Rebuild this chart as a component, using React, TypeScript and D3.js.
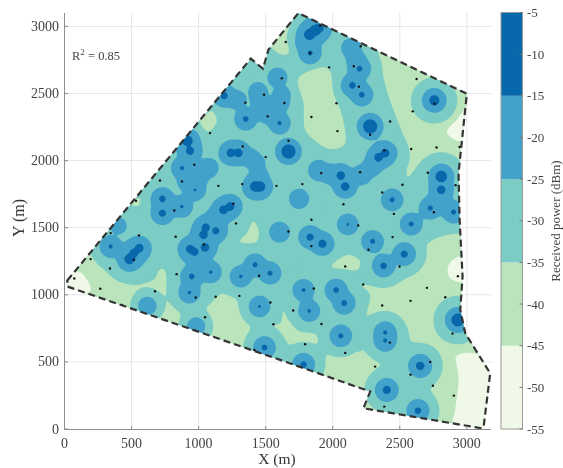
import React, { useMemo } from 'react';
import * as d3 from 'd3';

const W = 563;
const H = 468;
const SERIF = '"Liberation Serif", serif';

const xTicks = [0, 500, 1000, 1500, 2000, 2500, 3000];
const yTicks = [0, 500, 1000, 1500, 2000, 2500, 3000];
const barTicks = [-5, -10, -15, -20, -25, -30, -35, -40, -45, -50, -55];
// lower edge, upper edge, colour
const bands: [number, number, string][] = [
  [-55, -45, '#f0f9e8'],
  [-45, -35, '#bae4bc'],
  [-35, -25, '#7bccc4'],
  [-25, -15, '#43a2ca'],
  [-15, -5, '#0868ac'],
];

// survey area outline, metres
const boundary: [number, number][] = [
  [21, 1107], [1389, 2760], [1479, 2685], [1521, 2827], [1744, 3100], [3000, 2499],
  [2938, 1907], [2946, 1558], [2968, 1137], [2951, 888], [2988, 714], [3174, 415],
  [3125, 17], [3112, 5], [2229, 154], [2279, 279], [1608, 515], [21, 1062],
];

// strongest reading around each hot spot: x, y, dBm
const hotSpots: [number, number, number][] = [
  [1190, 2484, -11.5], [1284, 2454, -17], [1441, 2516, -17], [1459, 2441, -17], [1351, 2310, -12.2],
  [1496, 2354, -18], [1588, 2620, -15.5], [1620, 2491, -18], [1608, 2429, -17], [1603, 2280, -12.9],
  [1533, 2354, -16], [916, 2148, -9.7], [936, 2073, -11], [877, 1944, -12.9], [1073, 1944, -15.5],
  [1240, 2058, -10.8], [1297, 2058, -10.8], [1434, 1981, -19], [1451, 1894, -19], [1421, 1807, -10],
  [1459, 1807, -10], [973, 1782, -13.6], [911, 1845, -17], [730, 1715, -11.8], [730, 1608, -11.5],
  [874, 1658, -13.2], [1185, 1633, -10.8], [1235, 1658, -10.8], [1826, 2939, -9.7], [1869, 2971, -9.7],
  [1901, 2989, -10.8], [1831, 2802, -12.5], [1794, 2877, -17], [2137, 2839, -15.5], [2200, 2685, -12.2],
  [2175, 2752, -17], [2147, 2561, -11.8], [2217, 2491, -12.2], [2279, 2255, -8], [1670, 2068, -8],
  [2757, 2449, -10], [2341, 2024, -10.8], [2391, 2056, -10.8], [1894, 1927, -14.3], [2060, 1889, -10.8],
  [2093, 1807, -10.8], [2217, 1894, -15.5], [1749, 1715, -15], [2443, 1708, -12.5], [2809, 1882, -9.3],
  [2809, 1782, -10.8], [2801, 1695, -15.5], [2727, 1646, -12.5], [2901, 1616, -12.5], [2585, 1527, -12.5],
  [1603, 1467, -14.3], [1831, 1430, -11.5], [1923, 1380, -11], [2112, 1525, -13.6], [2297, 1398, -12.5],
  [2533, 1303, -11.5], [2379, 1216, -11.8], [1533, 1161, -12.5], [1782, 1035, -13], [1824, 880, -13.2],
  [2025, 1035, -12.2], [2085, 938, -12.2], [2391, 719, -13], [2391, 659, -13], [2060, 694, -12.5],
  [2933, 813, -8.6], [2652, 470, -10.8], [2403, 291, -11], [2635, 137, -11.8], [1782, 480, -11.8],
  [402, 1515, -19], [344, 1360, -13], [558, 1348, -10.8], [518, 1311, -10.8], [484, 1266, -10],
  [1053, 1502, -11], [1036, 1447, -10.8], [1128, 1477, -11.5], [936, 1341, -11], [969, 1321, -11],
  [1048, 1353, -10.8], [949, 1137, -12.2], [1090, 1169, -13.2], [931, 1017, -13.2], [1421, 1224, -12.5],
  [1314, 1137, -13.2], [1454, 913, -13.6], [618, 918, -17], [981, 764, -17], [1491, 607, -12.2],
  [1975, 1900, -17], [2290, 1950, -17], [1390, 2020, -18], [1000, 1870, -17], [1120, 1570, -17],
];

// measurement positions
const samples: [number, number][] = [
  [1085, 2205], [968, 1969], [876, 1845], [712, 1852], [533, 1700], [1147, 1812], [1326, 1825], [1500, 2026],
  [1329, 2106], [1515, 2330], [1349, 2432], [1488, 2491], [1259, 1678], [819, 1628], [1650, 2884], [1906, 3006],
  [1831, 2802], [1973, 2695], [2157, 2703], [2195, 2551], [2209, 2852], [2028, 2427], [1841, 2325], [2035, 2220],
  [1620, 2613], [1640, 2429], [1670, 2148], [2279, 2193], [2384, 2076], [2428, 2292], [2597, 2367], [2625, 2608],
  [2759, 2424], [2585, 2086], [2774, 2098], [2946, 2101], [2709, 1909], [2520, 1820], [2369, 1763], [2204, 1914],
  [1914, 1907], [1774, 1825], [1580, 1812], [2080, 1675], [2456, 1603], [2916, 1817], [2754, 1616], [1841, 1559],
  [344, 1460], [555, 1442], [829, 1433], [1279, 1532], [1038, 1375], [195, 1266], [339, 1196], [518, 1261],
  [73, 1122], [267, 1045], [675, 1027], [836, 1154], [978, 980], [1127, 985], [1304, 992], [1451, 1142],
  [1535, 943], [1558, 781], [1048, 833], [429, 925], [1416, 589], [2190, 1517], [1670, 1472], [1841, 1363],
  [2267, 1336], [2446, 1430], [2498, 1211], [2093, 1211], [2227, 1077], [2702, 1052], [2580, 955], [2839, 982],
  [2933, 1139], [2369, 920], [1859, 1047], [1705, 883], [1916, 783], [2426, 644], [2893, 711], [1794, 632],
  [2093, 567], [2316, 465], [2727, 500], [2580, 405], [2747, 323], [2903, 249], [2384, 167],
];

// weak-signal areas (-45..-35 dBm) that sit under the hot spot halos
const weakSouth: [number, number][] = [
  [-100, 1311], [202, 1311], [289, 1211], [376, 1124], [526, 1074], [675, 1124], [712, 1211], [762, 1174],
  [792, 1099], [782, 1012], [824, 900], [911, 863], [1035, 888], [1135, 982], [1210, 1030], [1259, 982],
  [1321, 982], [1321, 888], [1433, 788], [1608, 788], [1632, 875], [1670, 813], [1757, 726], [1906, 726],
  [1956, 639], [2229, 589], [2254, 863], [2279, 1000], [2217, 1074], [2379, 1057], [2478, 1137], [2627, 1199],
  [2702, 1373], [2776, 1423], [2963, 1460], [3300, 1460], [3300, -100], [-100, -100],
];
const weakNorthEast: [number, number][] = [
  [2341, 2802], [2379, 2616], [2416, 2479], [2490, 2280], [2553, 2106], [2560, 1882], [2652, 1981], [2752, 2031],
  [2851, 2031], [3025, 1957], [3150, 2031], [3150, 2578], [2329, 2877],
];
// smaller weak patches, on top of the halos
const weakCentral: [number, number][] = [
  [1744, 2611], [1943, 2695], [1981, 2665], [2006, 2504], [2068, 2342], [2093, 2131], [2043, 2093], [1956, 2093],
  [1844, 2168], [1794, 2230], [1782, 2429],
];
const weakTop: [number, number][] = [
  [1707, 3076], [1657, 2926], [1670, 2802], [1620, 2790], [1533, 2852], [1500, 2900], [1720, 3150],
];
const weakNorthWest: [number, number][] = [[1011, 2292], [1098, 2367], [1135, 2292], [1073, 2218]];
const weakWest: [number, number][] = [[476, 1683], [563, 1720], [550, 1663]];
const weakMid: [number, number][] = [[1309, 1398], [1359, 1460], [1408, 1547], [1446, 1485], [1433, 1398], [1346, 1385]];
const weakEast: [number, number][] = [[1993, 1211], [2117, 1298], [2204, 1249], [2185, 1186], [2093, 1191]];

// weakest areas (-55..-45 dBm)
const faintWest: [number, number][] = [[103, 1174], [177, 1099], [190, 1025], [28, 1040], [-20, 1099]];
const faintNorthEast: [number, number][] = [[3000, 2392], [2926, 2305], [2851, 2218], [2888, 2168], [2975, 2143], [3025, 2230]];
const faintEast: [number, number][] = [[2864, 1224], [2963, 1286], [3025, 1099], [2876, 1124]];
const faintSouthEast: [number, number][] = [
  [2921, 540], [3050, 565], [3224, 465], [3224, -57], [2901, 42], [2913, 142], [2938, 366], [2926, 465],
];

const x = d3.scaleLinear().domain([0, 3180]).range([64.5, 491]);
const y = d3.scaleLinear().domain([0, 3100]).range([429, 13]);
const bar = d3.scaleLinear().domain([-55, -5]).range([429, 12.5]);

// radius (m) at which a hot spot falls to a level
const radiusAt = (peak: number, level: number) => {
  const e = peak + 15;
  if (level === -15) return 7.5 * e;
  if (level === -25) return 75 + 3.5 * e;
  return 1.85 * (75 + 3.5 * e);
};

const STEP = 10;
const X0 = -30;
const Y0 = -30;
const NX = 330;
const NY = 320;

function levelPath(level: number) {
  const spots = hotSpots
    .map(([sx, sy, p]) => [sx, sy, radiusAt(p, level)])
    .filter(s => s[2] > 0);
  const field = new Float64Array(NX * NY);
  for (let j = 0; j < NY; j++) {
    const gy = Y0 + j * STEP;
    for (let i = 0; i < NX; i++) {
      const gx = X0 + i * STEP;
      let sum = 0;
      for (const [sx, sy, r] of spots) {
        const q = (r * r) / ((gx - sx) ** 2 + (gy - sy) ** 2 + 1);
        sum += q * q * Math.sqrt(q);
      }
      field[j * NX + i] = Math.min(Math.pow(sum, 1 / 5), 5);
    }
  }
  const contour = d3.contours().size([NX, NY]).thresholds([1])(field as any)[0];
  const project = d3.geoTransform({
    point(px: number, py: number) {
      this.stream.point(x(X0 + (px - 0.5) * STEP), y(Y0 + (py - 0.5) * STEP));
    },
  });
  return d3.geoPath(project)(contour) || '';
}

const blob = d3
  .line<[number, number]>()
  .x(d => x(d[0]))
  .y(d => y(d[1]))
  .curve(d3.curveCatmullRomClosed.alpha(0.5));

const outline = d3
  .line<[number, number]>()
  .x(d => x(d[0]))
  .y(d => y(d[1]))
  .curve(d3.curveLinearClosed);

export default function App() {
  const paths = useMemo(
    () => ({ teal: levelPath(-35), mid: levelPath(-25), dark: levelPath(-15) }),
    []
  );
  const c = '#444';
  return (
    <svg
      width={W}
      height={H}
      style={{ position: 'absolute', left: 0, top: 0, filter: 'blur(0.45px)' }}
      fontFamily={SERIF}
    >
      <defs>
        <clipPath id="area">
          <path d={outline(boundary) || ''} />
        </clipPath>
      </defs>
      <rect width={W} height={H} fill="#fff" />

      {xTicks.slice(1).map(t => (
        <line key={t} x1={x(t)} x2={x(t)} y1={13} y2={429} stroke="#e6e6e6" />
      ))}
      {yTicks.slice(1).map(t => (
        <line key={t} x1={64.5} x2={491} y1={y(t)} y2={y(t)} stroke="#e6e6e6" />
      ))}

      <g clipPath="url(#area)">
        <rect width={W} height={H} fill={bands[2][2]} />
        <path d={blob(weakSouth) || ''} fill={bands[1][2]} />
        <path d={blob(weakNorthEast) || ''} fill={bands[1][2]} />
        {[faintWest, faintNorthEast, faintEast, faintSouthEast].map((p, i) => (
          <path key={i} d={blob(p) || ''} fill={bands[0][2]} />
        ))}
        <path d={paths.teal} fill={bands[2][2]} />
        {[weakCentral, weakTop, weakNorthWest, weakWest, weakMid, weakEast].map((p, i) => (
          <path key={i} d={blob(p) || ''} fill={bands[1][2]} />
        ))}
        <path d={paths.mid} fill={bands[3][2]} />
        <path d={paths.dark} fill={bands[4][2]} />
      </g>

      {samples.map((d, i) => (
        <circle key={i} cx={x(d[0])} cy={y(d[1])} r={1.2} fill="#111" />
      ))}

      <path
        d={outline(boundary) || ''}
        fill="none"
        stroke="#333"
        strokeWidth={2.2}
        strokeDasharray="7 4"
      />

      {/* axes */}
      <path d="M64.5,13V429.5H491" fill="none" stroke="#8c8c8c" strokeWidth={1} />
      {xTicks.map(t => (
        <g key={t}>
          <line x1={x(t)} x2={x(t)} y1={429} y2={426} stroke="#8c8c8c" />
          <text x={x(t)} y={448} textAnchor="middle" fontSize={14} fill={c}>
            {t}
          </text>
        </g>
      ))}
      {yTicks.map(t => (
        <g key={t}>
          <line x1={64.5} x2={68} y1={y(t)} y2={y(t)} stroke="#8c8c8c" />
          <text x={59} y={y(t) + 4.5} textAnchor="end" fontSize={14} fill={c}>
            {t}
          </text>
        </g>
      ))}
      <text x={277} y={464} textAnchor="middle" fontSize={15.5} fill="#333">
        X (m)
      </text>
      <text
        transform="translate(24,218) rotate(-90)"
        textAnchor="middle"
        fontSize={16}
        fill="#333"
      >
        Y (m)
      </text>
      <text x={72} y={60} fontSize={12.5} fill={c}>
        R
        <tspan dy={-5} fontSize={9}>
          2
        </tspan>
        <tspan dy={5}> = 0.85</tspan>
      </text>

      {/* colour bar */}
      {bands.map(b => (
        <rect
          key={b[0]}
          x={501}
          width={21.5}
          y={bar(b[1])}
          height={bar(b[0]) - bar(b[1])}
          fill={b[2]}
        />
      ))}
      <rect x={501} y={12.5} width={21.5} height={416.5} fill="none" stroke="#999" />
      {barTicks.map(t => (
        <g key={t}>
          <line x1={519.5} x2={522.5} y1={bar(t)} y2={bar(t)} stroke="#777" />
          <text x={527} y={bar(t) + 4.5} fontSize={13} fill={c}>
            {t}
          </text>
        </g>
      ))}
      <text
        transform="translate(560,221) rotate(-90)"
        textAnchor="middle"
        fontSize={13}
        fill={c}
      >
        Received power (dBm)
      </text>
    </svg>
  );
}
